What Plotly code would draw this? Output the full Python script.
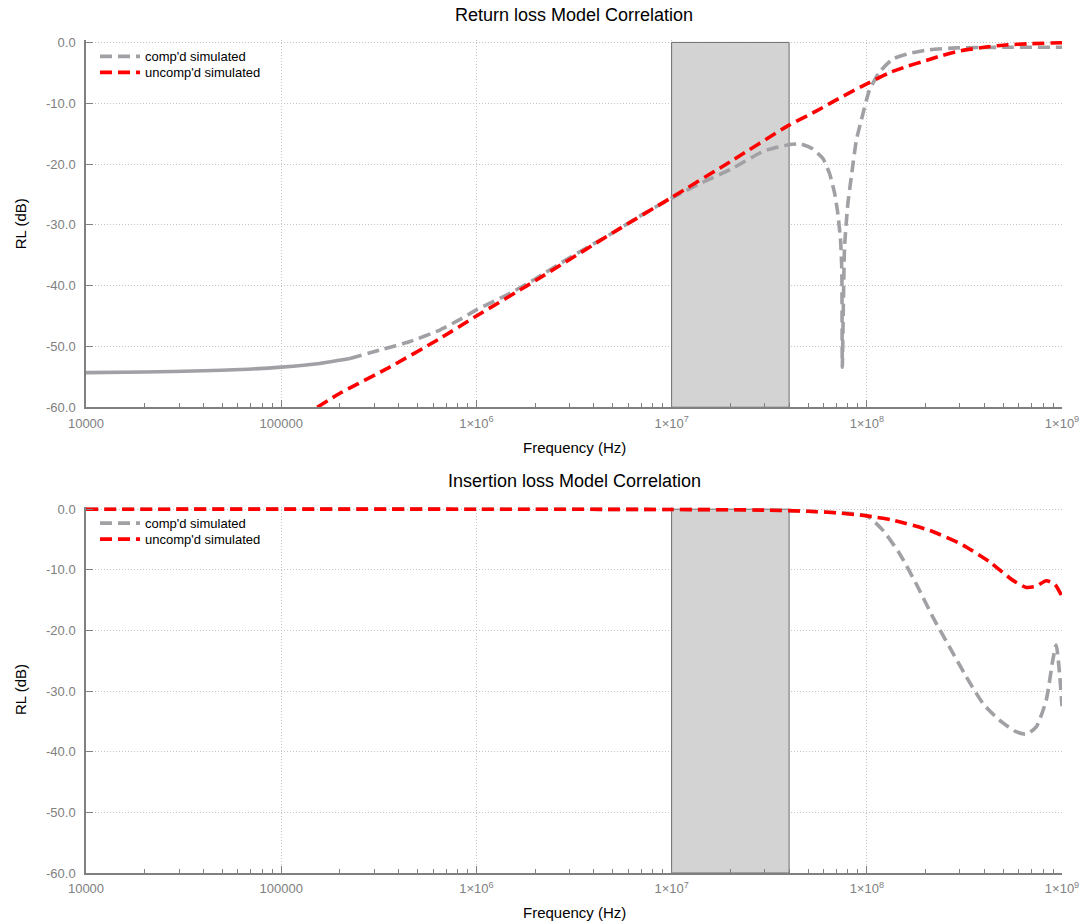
import numpy as np
import plotly.graph_objects as go

# ---------------- data ----------------
band_lo = 1e7
band_hi = 4e7

rl_comp_f = [1e4, 2e4, 4e4, 6.2e4, 1e5, 1.58e5, 2.25e5, 3.2e5, 4.56e5, 6.5e5, 8.2e5,
             1e6, 1.5e6, 2e6, 3e6, 5e6, 7e6, 1e7, 1.4e7, 2e7, 3e7, 4.03e7, 4.6e7,
             5.27e7, 5.96e7, 6.45e7, 6.85e7, 7.11e7, 7.34e7, 7.45e7, 7.49e7, 7.69e7,
             8.0e7, 8.33e7, 8.84e7, 9.37e7, 1.03e8, 1.16e8, 1.36e8, 1.66e8, 2.1e8,
             2.87e8, 5e8, 1e9]
rl_comp_db = [-54.3, -54.2, -54.0, -53.8, -53.4, -52.8, -52.0, -50.6, -49.2, -47.3, -45.6,
              -44.0, -41.2, -38.9, -35.4, -31.3, -28.4, -25.6, -23.2, -20.9, -17.8, -16.8, -16.7,
              -17.5, -19.1, -21.6, -24.9, -28.2, -32.6, -37.5, -53.4, -33.7,
              -26.5, -22.1, -16.1, -12.8, -7.9, -4.9, -2.7, -1.8, -1.2,
              -0.9, -0.8, -0.8]

rl_unc_f = [1.53e5, 2e5, 3.6e5, 6.5e5, 1e6, 2e6, 5e6, 1e7, 2e7, 4e7, 5.5e7, 7.4e7, 1e8,
            1.3e8, 1.62e8, 2e8, 2.4e8, 3e8, 4e8, 5e8, 7e8, 1e9]
rl_unc_db = [-60.0, -57.7, -53.4, -48.7, -45.0, -39.2, -31.3, -25.5, -19.6, -13.6, -11.3, -9.0,
             -6.8, -5.0, -3.9, -3.0, -2.2, -1.4, -0.8, -0.45, -0.2, -0.05]

il_unc_f = [1e4, 1e6, 1e7, 3e7, 5e7, 7e7, 1e8, 1.36e8, 2.1e8, 3.1e8, 4.26e8, 5.58e8,
            6.56e8, 7.38e8, 8.3e8, 9.2e8, 1e9]
il_unc_db = [0.0, 0.0, -0.05, -0.15, -0.35, -0.6, -1.1, -1.8, -3.5, -5.9, -8.7, -11.7,
             -12.9, -12.7, -11.8, -12.4, -14.4]

il_comp_f = [1e4, 1e6, 1e7, 3e7, 5e7, 7e7, 1e8, 1.21e8, 1.47e8, 1.79e8, 2.18e8, 2.65e8,
             3.23e8, 3.93e8, 4.78e8, 5.82e8, 6.56e8, 7.38e8, 8.3e8, 8.97e8, 9.34e8,
             9.71e8, 1e9]
il_comp_db = [0.0, 0.0, -0.05, -0.15, -0.35, -0.6, -1.1, -3.5, -7.3, -12.3, -17.8, -22.7,
              -27.6, -32.0, -34.8, -36.7, -37.1, -35.9, -31.5, -24.9, -22.4,
              -27.0, -32.5]

x_tickvals = [1e4, 1e5, 1e6, 1e7, 1e8, 1e9]
x_ticktext = ["10000", "100000", "1×10<sup>6</sup>", "1×10<sup>7</sup>",
              "1×10<sup>8</sup>", "1×10<sup>9</sup>"]
y_tickvals = [0, -10, -20, -30, -40, -50, -60]
y_ticktext = ["0.0", "-10.0", "-20.0", "-30.0", "-40.0", "-50.0", "-60.0"]

titles = ["Return loss Model Correlation", "Insertion loss Model Correlation"]
names = ["comp'd simulated", "uncomp'd simulated"]

# ---------------- styling ----------------
GRAY = "#a0a0a5"
RED = "#ff0000"
AX = "#808080"
GRID = "#c4c4c4"
FONT = "Liberation Sans, Arial, sans-serif"
LW = 3.6
DASH = "12px,6px"

W, H = 1084, 924
X_LEFT, X_RIGHT = 86, 1062
TOP0, TOP60 = 42, 407
BOT0, BOT60 = 509, 873
YT = 0.4  # small headroom so the 0 dB lines are not clipped
pxdb = (TOP60 - TOP0) / 60.0

ml, mr = X_LEFT, W - X_RIGHT
mt = TOP0 - YT * pxdb
mb = H - BOT60
plot_h = H - mt - mb

def py(p):
    """page pixel -> paper y"""
    return (H - mb - p) / plot_h

dom_top = [py(TOP60), 1.0]
dom_bot = [0.0, py(BOT0 - YT * pxdb)]

fig = go.Figure()

minor_vals = [k * 10 ** d for d in range(4, 9) for k in range(2, 10)]

def add_band(xa, ya):
    fig.add_trace(go.Scatter(
        x=[band_lo, band_hi, band_hi, band_lo, band_lo],
        y=[-60, -60, 0, 0, -60],
        xaxis=xa, yaxis=ya, mode="lines", fill="toself",
        fillcolor="#d3d3d3", line=dict(color="#6e6e6e", width=1),
        showlegend=False, hoverinfo="skip"))

# top subplot
add_band("x", "y")
f = np.array(rl_comp_f)
d = np.array(rl_comp_db)
solid = f <= 2.25e5
last_solid = f[solid][-1]
dashed = (~solid) | (f == last_solid)
fig.add_trace(go.Scatter(x=f[solid], y=d[solid], xaxis="x", yaxis="y", mode="lines",
                         line=dict(color=GRAY, width=LW, shape="spline", smoothing=0.6),
                         showlegend=False, hoverinfo="skip"))
fig.add_trace(go.Scatter(x=f[dashed], y=d[dashed],
                         xaxis="x", yaxis="y", mode="lines", name=names[0],
                         line=dict(color=GRAY, width=LW, dash=DASH, shape="spline", smoothing=0.5),
                         legend="legend"))
fig.add_trace(go.Scatter(x=rl_unc_f, y=rl_unc_db, xaxis="x", yaxis="y", mode="lines",
                         name=names[1],
                         line=dict(color=RED, width=LW, dash=DASH, shape="spline", smoothing=0.6),
                         legend="legend2"))

# bottom subplot
add_band("x2", "y2")
fig.add_trace(go.Scatter(x=il_comp_f, y=il_comp_db, xaxis="x2", yaxis="y2", mode="lines",
                         name=names[0],
                         line=dict(color=GRAY, width=LW, dash=DASH, shape="spline", smoothing=0.6),
                         legend="legend3"))
fig.add_trace(go.Scatter(x=il_unc_f, y=il_unc_db, xaxis="x2", yaxis="y2", mode="lines",
                         name=names[1],
                         line=dict(color=RED, width=LW, dash=DASH, shape="spline", smoothing=0.6),
                         legend="legend4"))

xaxis_common = dict(
    type="log", range=[4, 9], tickvals=x_tickvals, ticktext=x_ticktext,
    ticks="inside", ticklen=7, tickwidth=1, tickcolor=AX,
    showline=True, linecolor=AX, linewidth=1.5,
    showgrid=True, gridcolor=GRID, griddash="1px,2px", gridwidth=1,
    tickfont=dict(family=FONT, size=13, color=AX),
    ticklabeloverflow="allow", ticklabelstandoff=3, automargin=False,
    minor=dict(tickvals=minor_vals, ticks="inside", ticklen=4, tickcolor=AX, showgrid=False),
    zeroline=False, fixedrange=True,
)
yaxis_common = dict(
    range=[-60, YT], tickvals=y_tickvals, ticktext=y_ticktext,
    ticks="inside", ticklen=7, tickwidth=1, tickcolor=AX,
    showline=True, linecolor=AX, linewidth=1.5,
    showgrid=True, gridcolor=GRID, griddash="1px,2px", gridwidth=1,
    tickfont=dict(family=FONT, size=13, color=AX),
    ticklabeloverflow="allow", ticklabelstandoff=6, automargin=False,
    zeroline=False, fixedrange=True,
)

legend_common = dict(
    x=(95 - ml) / (W - ml - mr), xanchor="left", yanchor="middle",
    bgcolor="rgba(0,0,0,0)", font=dict(family=FONT, size=13, color="black"),
    tracegroupgap=0, itemwidth=40, borderwidth=0,
)

annotations = []
for title, yp in zip(titles, [py(15), py(481)]):
    annotations.append(dict(text=title, x=0.5, y=yp, xref="paper", yref="paper",
                            showarrow=False, xanchor="center", yanchor="middle",
                            font=dict(family=FONT, size=18, color="black")))
for yp in [py(447), py(913)]:
    annotations.append(dict(text="Frequency (Hz)", x=0.5, y=yp, xref="paper", yref="paper",
                            showarrow=False, xanchor="center", yanchor="middle",
                            font=dict(family=FONT, size=15, color="black")))
for yp in [py(224), py(690)]:
    annotations.append(dict(text="RL (dB)", x=(20 - ml) / (W - ml - mr), y=yp,
                            xref="paper", yref="paper", textangle=-90,
                            showarrow=False, xanchor="center", yanchor="middle",
                            font=dict(family=FONT, size=15, color="black")))

fig.update_layout(
    width=W, height=H, autosize=False,
    margin=dict(l=ml, r=mr, t=mt, b=mb, pad=0, autoexpand=False),
    paper_bgcolor="white", plot_bgcolor="white",
    xaxis=dict(domain=[0, 1], anchor="y", **xaxis_common),
    yaxis=dict(domain=dom_top, anchor="x", **yaxis_common),
    xaxis2=dict(domain=[0, 1], anchor="y2", **xaxis_common),
    yaxis2=dict(domain=dom_bot, anchor="x2", **yaxis_common),
    legend=dict(y=py(56), **legend_common),
    legend2=dict(y=py(72), **legend_common),
    legend3=dict(y=py(523), **legend_common),
    legend4=dict(y=py(539), **legend_common),
    annotations=annotations,
    font=dict(family=FONT),
)

fig.write_html("out.html",
               config={"displayModeBar": False, "responsive": False},
               post_script="document.body.style.margin='0';document.body.style.overflow='hidden';")
